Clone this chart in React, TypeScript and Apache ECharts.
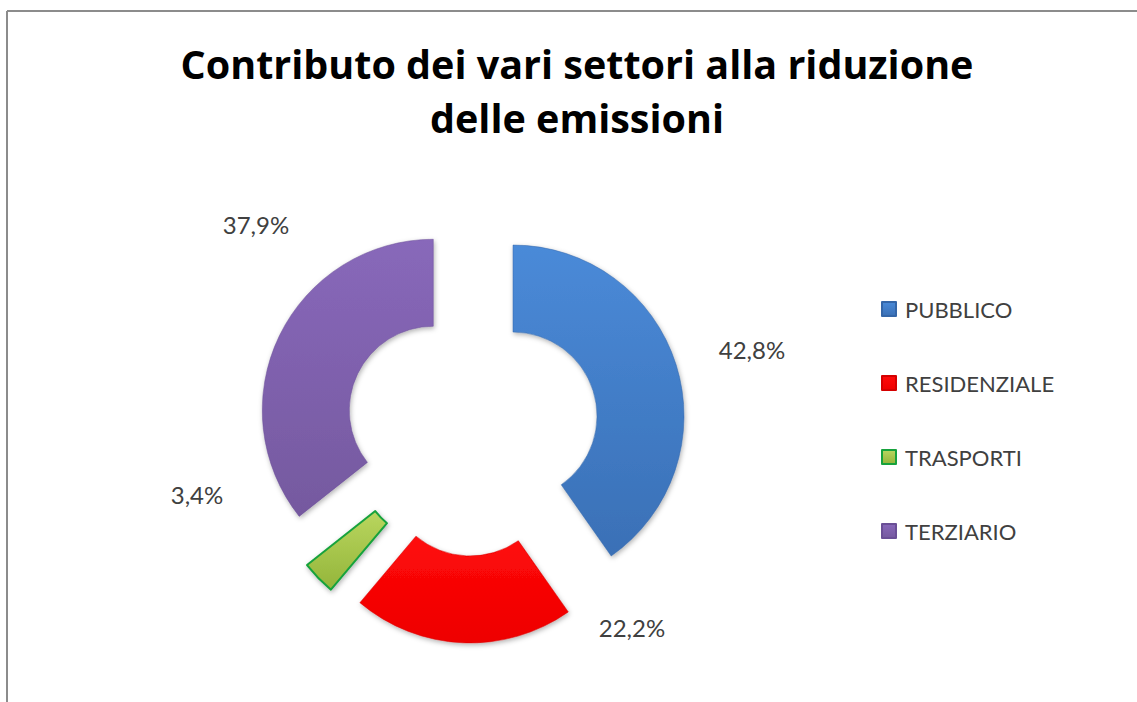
import React, { useEffect, useRef } from "react";
import * as echarts from "echarts";

// ---- data ----
const CATEGORIES = ["PUBBLICO", "RESIDENZIALE", "TRASPORTI", "TERZIARIO"];
const VALUES = [42.8, 22.2, 3.4, 37.9];
const TITLE_TEXT = "Contributo dei vari settori alla riduzione\ndelle emissioni";

// ---- styles / layout ----
const FILL_TOP = ["#4a8ad8", "#ff0a0a", "#b9d65f", "#8868ba"];
const FILL_BOTTOM = ["#3a70b6", "#ee0000", "#94b53a", "#75599f"];
const BORDERS = ["#3466a8", "#d40000", "#17a23c", "#6a4f96"];
const BORDER_W = [0.5, 0.5, 2, 0.5];
const LABEL_POS: number[][] = [
  [752, 349],
  [632, 627],
  [197, 494],
  [256, 224],
];
const FONT = "Lato, 'Open Sans', sans-serif";
const TITLE_FONT = "'Open Sans', Lato, sans-serif";
const PIE_CENTER = [472, 429];
const PIE_RADIUS = [84, 171];

export default function App() {
  const ref = useRef<HTMLDivElement>(null);

  useEffect(() => {
    if (!ref.current) return;
    const chart = echarts.init(ref.current, undefined, { renderer: "svg" });

    const sliceData = CATEGORIES.map((name, i) => ({
      name,
      value: VALUES[i],
      selected: true,
      itemStyle: {
        color: new echarts.graphic.LinearGradient(0, 0, 0, 1, [
          { offset: 0, color: FILL_TOP[i] },
          { offset: 1, color: FILL_BOTTOM[i] },
        ]),
        borderColor: BORDERS[i],
        borderWidth: BORDER_W[i],
      },
    }));

    const labelData = CATEGORIES.map((name, i) => ({ name, value: VALUES[i] }));

    chart.setOption({
      animation: false,
      backgroundColor: "#ffffff",
      graphic: [
        {
          type: "text",
          x: 577,
          y: 37,
          style: {
            text: TITLE_TEXT,
            fill: "#000000",
            font: `bold 39.5px ${TITLE_FONT}`,
            textAlign: "center",
            textVerticalAlign: "top",
            lineHeight: 54,
          },
        },
        {
          type: "line",
          shape: { x1: 7, y1: 11, x2: 1137, y2: 11 },
          style: { stroke: "#8c8c8c", lineWidth: 2 },
        },
        {
          type: "line",
          shape: { x1: 7, y1: 11, x2: 7, y2: 702 },
          style: { stroke: "#8c8c8c", lineWidth: 2 },
        },
      ],
      legend: {
        orient: "vertical",
        left: 876,
        top: 293,
        icon: "rect",
        itemWidth: 14,
        itemHeight: 14,
        itemGap: 52,
        selectedMode: false,
        data: CATEGORIES,
        textStyle: {
          fontFamily: FONT,
          fontSize: 22,
          color: "#404040",
          lineHeight: 22,
          padding: [0, 0, 0, 4],
        },
      },
      series: [
        {
          type: "pie",
          name: "slices",
          center: PIE_CENTER,
          radius: PIE_RADIUS,
          startAngle: 90,
          clockwise: true,
          selectedMode: "multiple",
          selectedOffset: 43,
          emphasis: { disabled: true },
          itemStyle: {
            shadowBlur: 5,
            shadowColor: "rgba(0,0,0,0.3)",
            shadowOffsetX: 1,
            shadowOffsetY: 2,
          },
          label: { show: false },
          labelLine: { show: false },
          data: sliceData,
        },
        {
          type: "pie",
          name: "labels",
          silent: true,
          center: PIE_CENTER,
          radius: PIE_RADIUS,
          startAngle: 90,
          clockwise: true,
          emphasis: { disabled: true },
          itemStyle: { color: "rgba(0,0,0,0)", borderWidth: 0 },
          label: {
            show: true,
            position: "outside",
            fontFamily: FONT,
            fontSize: 24,
            color: "#404040",
            formatter: (p: any) => p.value.toFixed(1).replace(".", ",") + "%",
          },
          labelLine: { show: false },
          labelLayout: (p: any) => ({
            x: LABEL_POS[p.dataIndex][0],
            y: LABEL_POS[p.dataIndex][1],
            align: "center",
            verticalAlign: "middle",
          }),
          data: labelData,
        },
      ],
    });

    return () => chart.dispose();
  }, []);

  return (
    <div
      ref={ref}
      style={{ position: "fixed", left: 0, top: 0, width: 1137, height: 702 }}
    />
  );
}
